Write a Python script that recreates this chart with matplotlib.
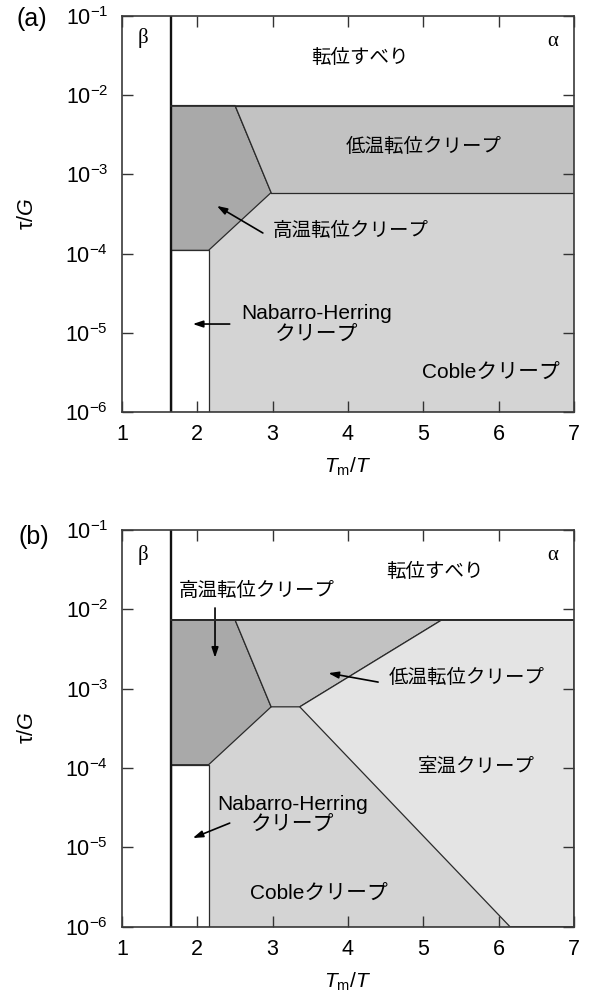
import matplotlib.pyplot as plt

plt.rcParams['font.family'] = ['Liberation Sans', 'Noto Sans CJK JP']
plt.rcParams['mathtext.fontset'] = 'custom'
plt.rcParams['mathtext.rm'] = 'Liberation Sans'
plt.rcParams['mathtext.it'] = 'Liberation Sans:italic'
plt.rcParams['mathtext.bf'] = 'Liberation Sans:bold'

x_ticks = [1, 2, 3, 4, 5, 6, 7]
y_ticks = [1e-6, 1e-5, 1e-4, 1e-3, 1e-2, 1e-1]
y_tick_labels = ["$10^{-6}$", "$10^{-5}$", "$10^{-4}$", "$10^{-3}$", "$10^{-2}$", "$10^{-1}$"]

# phase boundaries (Tm/T, tau/G)
beta_alpha_x = 1.65
slip_tau = 7.4e-3

coble_x = [1.65, 7, 7, 1.65]
coble_y = [7.4e-3, 7.4e-3, 1e-6, 1e-6]
nh_x = [1.65, 2.15, 2.15, 1.65]
nh_y = [1.1e-4, 1.1e-4, 1e-6, 1e-6]
ht_x = [1.65, 2.5, 2.98, 2.15, 1.65]
ht_y = [7.4e-3, 7.4e-3, 5.9e-4, 1.1e-4, 1.1e-4]

lt_a_x = [2.5, 7, 7, 2.98]
lt_a_y = [7.4e-3, 7.4e-3, 5.9e-4, 5.9e-4]

lt_b_x = [2.5, 5.25, 3.36, 2.98]
lt_b_y = [7.4e-3, 7.4e-3, 5.9e-4, 5.9e-4]
rt_b_x = [5.25, 7, 7, 6.15, 3.36]
rt_b_y = [7.4e-3, 7.4e-3, 1e-6, 1e-6, 5.9e-4]

c_ht = '#a9a9a9'
c_lt = '#c2c2c2'
c_coble = '#d4d4d4'
c_rt = '#e4e4e4'
edge = '#2a2a2a'

fig = plt.figure(figsize=(5.91, 9.99), dpi=100)
ax_a = fig.add_axes([0.2064, 0.5876, 0.7648, 0.3964])
ax_b = fig.add_axes([0.2064, 0.0724, 0.7648, 0.3971])


def setup(ax):
    ax.set_yscale('log')
    ax.set_xlim(1, 7)
    ax.set_ylim(1e-6, 1e-1)
    ax.set_xticks(x_ticks)
    ax.set_yticks(y_ticks)
    ax.set_yticklabels(y_tick_labels)
    ax.minorticks_off()
    ax.tick_params(direction='in', length=8, width=1, color='#333333',
                   top=True, right=True, labelsize=15.5)
    ax.tick_params(axis='y', pad=10)
    ax.tick_params(axis='x', pad=9)
    for s in ax.spines.values():
        s.set_linewidth(1.2)
        s.set_color('#3a3a3a')
        s.set_zorder(5)
    ax.set_xlabel(r"$T_{\mathrm{m}}/T$", fontsize=15)
    ax.xaxis.set_label_coords(0.5, -0.11)
    ax.xaxis.label.set_va('top')
    ax.set_ylabel(r"τ/$G$", fontsize=15.5)
    ax.yaxis.set_label_coords(-0.185, 0.5)

    ax.fill(coble_x, coble_y, color=c_coble, ec=edge, lw=0.9)
    ax.fill(nh_x, nh_y, color='white', ec=edge, lw=0.9)
    ax.fill(ht_x, ht_y, color=c_ht, ec=edge, lw=0.9)
    ax.plot([beta_alpha_x, beta_alpha_x], [1e-6, 1e-1], color='#111111', lw=1.7, zorder=4)
    ax.plot([beta_alpha_x, 7], [slip_tau, slip_tau], color=edge, lw=1.2, zorder=4)


def arrow(ax, head, tail):
    ax.annotate("", xy=head, xytext=tail,
                arrowprops=dict(arrowstyle='-|>,head_length=0.6,head_width=0.2',
                                color='black', lw=1.2, shrinkA=0, shrinkB=0))


greek = dict(family='Liberation Serif', fontsize=15)
jp = 14
en = 15

# (a)
setup(ax_a)
ax_a.fill(lt_a_x, lt_a_y, color=c_lt, ec=edge, lw=0.9)
ax_a.text(1.28, 0.053, "β", ha='center', va='center', **greek)
ax_a.text(6.72, 0.048, "α", ha='center', va='center', **greek)
ax_a.text(4.16, 0.0295, "転位すべり", ha='center', va='center', fontsize=jp)
ax_a.text(5.0, 2.2e-3, "低温転位クリープ", ha='center', va='center', fontsize=jp)
ax_a.text(4.04, 1.93e-4, "高温転位クリープ", ha='center', va='center', fontsize=jp)
arrow(ax_a, (2.26, 4.0e-4), (2.87, 1.82e-4))
ax_a.text(3.58, 1.3e-5, "Nabarro-Herring\nクリープ", ha='center', va='center',
          multialignment='center', fontsize=en, linespacing=1.1)
arrow(ax_a, (1.94, 1.29e-5), (2.43, 1.29e-5))
ax_a.text(5.9, 3.2e-6, "Cobleクリープ", ha='center', va='center', fontsize=en)
fig.text(0.053, 0.981, "(a)", ha='center', va='center', fontsize=18)

# (b)
setup(ax_b)
ax_b.fill(lt_b_x, lt_b_y, color=c_lt, ec=edge, lw=0.9)
ax_b.fill(rt_b_x, rt_b_y, color=c_rt, ec=edge, lw=0.9)
ax_b.plot([beta_alpha_x, 7], [slip_tau, slip_tau], color=edge, lw=1.2, zorder=4)
ax_b.text(1.28, 0.0484, "β", ha='center', va='center', **greek)
ax_b.text(6.72, 0.048, "α", ha='center', va='center', **greek)
ax_b.text(5.15, 0.0295, "転位すべり", ha='center', va='center', fontsize=jp)
ax_b.text(2.79, 0.017, "高温転位クリープ", ha='center', va='center', fontsize=jp)
arrow(ax_b, (2.235, 2.45e-3), (2.235, 1.04e-2))
ax_b.text(5.58, 1.36e-3, "低温転位クリープ", ha='center', va='center', fontsize=jp)
arrow(ax_b, (3.74, 1.57e-3), (4.40, 1.21e-3))
ax_b.text(5.70, 1.02e-4, "室温クリープ", ha='center', va='center', fontsize=jp)
ax_b.text(3.26, 2.6e-5, "Nabarro-Herring\nクリープ", ha='center', va='center',
          multialignment='center', fontsize=en, linespacing=1.1)
arrow(ax_b, (1.94, 1.31e-5), (2.43, 2.02e-5))
ax_b.text(3.62, 2.64e-6, "Cobleクリープ", ha='center', va='center', fontsize=en)
fig.text(0.058, 0.4625, "(b)", ha='center', va='center', fontsize=18)

fig.savefig("out.png", dpi=100)
